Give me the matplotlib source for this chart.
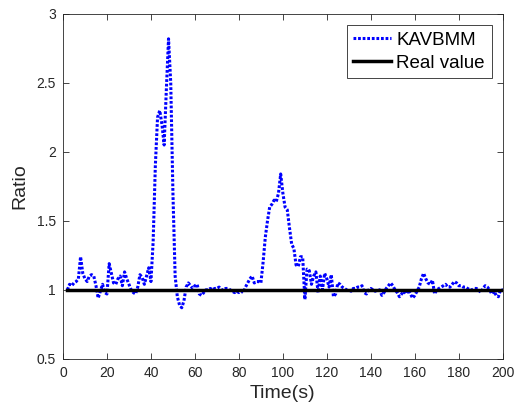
import numpy as np
import matplotlib.pyplot as plt

plt.rcParams['font.family'] = ['Liberation Sans', 'DejaVu Sans']

# time axis (s) and estimated ratio
time = np.arange(2, 201)
ratio = [
    1.00, 1.04, 1.03, 1.05, 1.06, 1.08, 1.24, 1.12, 1.08,          # 2-10
    1.06, 1.10, 1.11, 1.10, 1.03, 0.94, 0.99, 1.04, 0.98, 0.97,    # 11-20
    1.19, 1.12, 1.05, 1.04, 1.08, 1.10, 1.03, 1.13, 1.08, 1.04,    # 21-30
    1.00, 0.98, 0.97, 1.02, 1.11, 1.09, 1.04, 1.10, 1.16, 1.06,    # 31-40
    1.35, 1.90, 2.25, 2.30, 2.20, 2.05, 2.45, 2.82, 2.50, 1.70,    # 41-50
    1.10, 0.95, 0.89, 0.87, 0.92, 1.02, 1.05, 1.03, 1.01, 1.03,    # 51-60
    1.04, 0.97, 0.96, 0.98, 1.00, 1.00, 1.01, 1.00, 1.01, 1.01,    # 61-70
    1.02, 1.00, 1.00, 1.01, 1.01, 1.00, 0.99, 0.98, 0.99, 0.98,    # 71-80
    0.99, 0.98, 1.02, 1.05, 1.08, 1.10, 1.05, 1.06, 1.06, 1.05,    # 81-90
    1.20, 1.38, 1.50, 1.60, 1.62, 1.65, 1.64, 1.70, 1.84, 1.70,    # 91-100
    1.60, 1.58, 1.45, 1.33, 1.30, 1.18, 1.17, 1.24, 1.24, 0.93,    # 101-110
    1.15, 1.14, 1.04, 1.10, 1.13, 0.98, 1.10, 1.00, 1.12, 1.08,    # 111-120
    1.02, 1.11, 0.95, 0.97, 1.05, 1.04, 1.02, 1.01, 1.00, 1.00,    # 121-130
    0.99, 1.01, 1.01, 1.02, 1.02, 1.03, 0.98, 0.97, 1.00, 1.01,    # 131-140
    1.00, 0.99, 1.00, 1.00, 0.96, 0.98, 1.01, 1.03, 1.05, 1.03,    # 141-150
    1.00, 0.98, 0.95, 0.97, 0.99, 0.97, 1.00, 0.97, 0.94, 0.96,    # 151-160
    0.99, 1.02, 1.08, 1.12, 1.08, 1.05, 1.04, 1.07, 0.97, 1.00,    # 161-170
    1.01, 1.02, 1.03, 1.04, 1.02, 1.02, 1.04, 1.06, 1.05, 1.03,    # 171-180
    1.03, 1.02, 1.02, 1.01, 1.00, 1.00, 1.01, 1.01, 1.00, 0.98,    # 181-190
    1.01, 1.03, 1.02, 1.00, 0.97, 0.99, 0.96, 0.95, 1.00, 1.00,    # 191-200
]
real_value = 1.0

fig = plt.figure(figsize=(5.18, 4.11), dpi=100)
ax = fig.add_axes([0.1216, 0.127, 0.849, 0.839])

# dense MATLAB-like dotted line
ax.plot(time, ratio, color='blue', linestyle=(0, (0.9, 0.6)), linewidth=2.2,
        label='KAVBMM')
ax.plot([time[0], time[-1]], [real_value, real_value], color='black',
        linewidth=2.5, label='Real value')

ax.set_xlim(0, 200)
ax.set_ylim(0.5, 3)
ax.set_xticks(np.arange(0, 201, 20))
ax.set_yticks([0.5, 1, 1.5, 2, 2.5, 3])
ax.set_yticklabels(['0.5', '1', '1.5', '2', '2.5', '3'])

gray = (0.15, 0.15, 0.15)
for s in ax.spines.values():
    s.set_color(gray)
    s.set_linewidth(0.6)
ax.tick_params(direction='in', top=True, right=True, length=4, width=0.6,
               colors=gray, labelsize=10, pad=5)

ax.set_xlabel('Time(s)', fontsize=14, color=gray, labelpad=4)
ax.set_ylabel('Ratio', fontsize=14, color=gray, labelpad=6)

leg = ax.legend(loc='upper right', fontsize=13.5, fancybox=False,
                framealpha=1, edgecolor=gray, handlelength=2.0,
                borderaxespad=0.6, handletextpad=0.3, labelspacing=0.3,
                borderpad=0.35)
leg.get_frame().set_linewidth(0.6)

fig.savefig('out.png', dpi=100)
